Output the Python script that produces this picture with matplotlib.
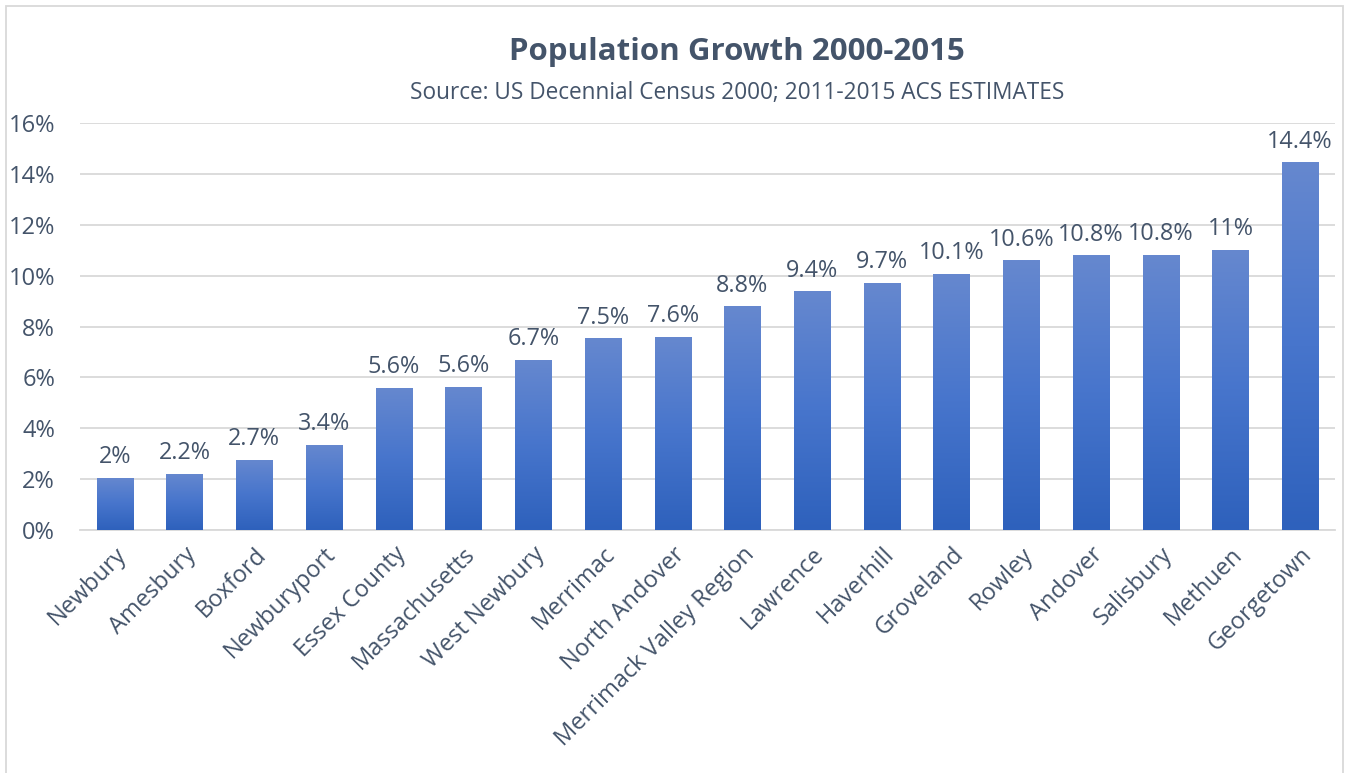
import matplotlib
matplotlib.use("Agg")
import matplotlib.pyplot as plt
import numpy as np
from matplotlib.patches import Rectangle
from matplotlib.colors import LinearSegmentedColormap

categories = ["Newbury", "Amesbury", "Boxford", "Newburyport", "Essex County",
              "Massachusetts", "West Newbury", "Merrimac", "North Andover",
              "Merrimack Valley Region", "Lawrence", "Haverhill", "Groveland",
              "Rowley", "Andover", "Salisbury", "Methuen", "Georgetown"]
values = [2.06, 2.21, 2.76, 3.35, 5.6, 5.63, 6.7, 7.55, 7.6,
          8.8, 9.4, 9.72, 10.08, 10.6, 10.8, 10.82, 11.02, 14.45]
value_labels = ["2%", "2.2%", "2.7%", "3.4%", "5.6%", "5.6%", "6.7%", "7.5%", "7.6%",
                "8.8%", "9.4%", "9.7%", "10.1%", "10.6%", "10.8%", "10.8%", "11%", "14.4%"]
y_ticks = [0, 2, 4, 6, 8, 10, 12, 14, 16]

TEXT = "#44546A"
GRID = "#D9D9D9"
plt.rcParams['font.family'] = ['Open Sans', 'DejaVu Sans']

W, H = 1352, 773
fig = plt.figure(figsize=(W / 100, H / 100), dpi=100)
ax = fig.add_axes([80 / W, 1 - 530 / H, (1335 - 80) / W, (530 - 123) / H])

x = np.arange(len(categories))
bars = ax.bar(x, values, width=0.52, color="none", edgecolor="none", zorder=3)

cmap = LinearSegmentedColormap.from_list("g", ["#2E61BC", "#4775CC", "#6688CF"])
grad = np.linspace(0, 1, 256).reshape(-1, 1)
for b in bars:
    x0, y0 = b.get_x(), b.get_y()
    w, h = b.get_width(), b.get_height()
    im = ax.imshow(grad, cmap=cmap, aspect="auto", origin="lower",
                   extent=(x0, x0 + w, y0, y0 + h), zorder=3)
    im.set_clip_path(b)

for b, lab in zip(bars, value_labels):
    ax.annotate(lab, (b.get_x() + b.get_width() / 2, b.get_height()),
                xytext=(0, 6), textcoords="offset points", ha="center", va="bottom",
                fontsize=16.8, color=TEXT)

ax.set_xlim(-0.5, len(categories) - 0.5)
ax.set_ylim(0, 16)
ax.set_yticks(y_ticks)
ax.set_yticklabels([f"{t}%" for t in y_ticks])
ax.set_xticks(x)
ax.set_xticklabels(categories, rotation=45, ha="right", rotation_mode="anchor")
ax.tick_params(axis="both", length=0, labelsize=17, labelcolor=TEXT)
ax.tick_params(axis="y", pad=18)
ax.tick_params(axis="x", pad=9)
ax.yaxis.grid(True, color=GRID, linewidth=1.3, zorder=0)
ax.set_axisbelow(True)
for s in ["top", "right", "left"]:
    ax.spines[s].set_visible(False)
ax.spines["bottom"].set_color(GRID)
ax.spines["bottom"].set_linewidth(1.3)

fig.text(737 / W, 1 - 52 / H, "Population Growth 2000-2015", ha="center", va="center",
         fontsize=22.5, fontweight="bold", color=TEXT)
fig.text(737 / W, 1 - 93 / H, "Source: US Decennial Census 2000; 2011-2015 ACS ESTIMATES",
         ha="center", va="center", fontsize=16.3, color=TEXT)

# chart frame
fig.add_artist(Rectangle((6 / W, -0.05), (1343 - 6) / W, 1 - 6 / H + 0.05,
                         transform=fig.transFigure, fill=False,
                         edgecolor=GRID, linewidth=1.3))

fig.savefig("out.png", dpi=100)
